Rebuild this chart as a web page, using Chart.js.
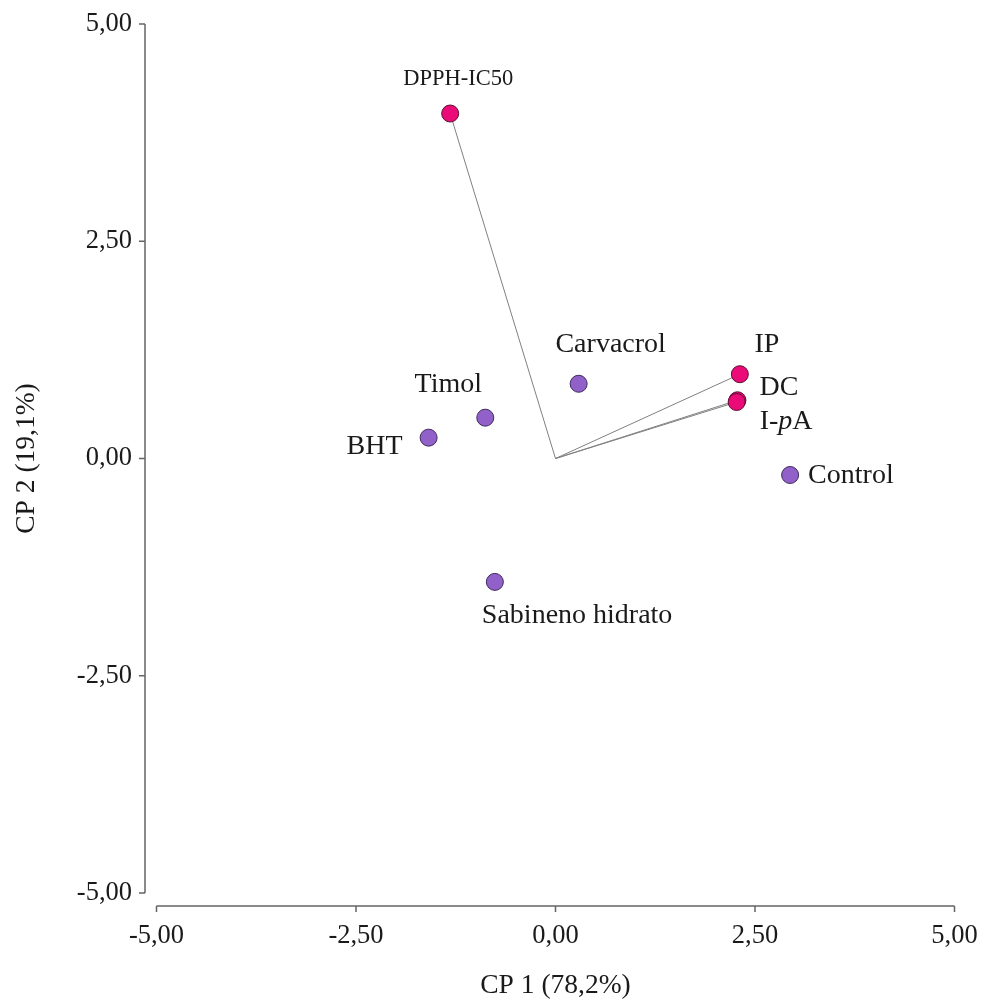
<!DOCTYPE html>
<html>
<head>
<meta charset="utf-8">
<script src="https://cdn.jsdelivr.net/npm/chart.js@4.4.1/dist/chart.umd.min.js"></script>
<style>
  html, body { margin: 0; padding: 0; background: #ffffff; }
  #wrap { width: 984px; height: 1000px; position: relative; }
</style>
</head>
<body>
<div id="wrap"><canvas id="biplot"></canvas></div>
<script>
// Principal component scores of the samples
const sampleNames = ['Carvacrol', 'Timol', 'BHT', 'Control', 'Sabineno hidrato'];
const sampleCP1 = [0.29, -0.88, -1.59, 2.94, -0.76];
const sampleCP2 = [0.86, 0.47, 0.24, -0.19, -1.42];

// Loadings of the measured variables (drawn as vectors from the origin)
const variableNames = ['DPPH-IC50', 'IP', 'DC', 'I-pA'];
const variableCP1 = [-1.32, 2.31, 2.28, 2.27];
const variableCP2 = [3.97, 0.97, 0.67, 0.65];

// Axis ticks and titles
const axisTicks = [-5, -2.5, 0, 2.5, 5];
const xTitle = 'CP 1 (78,2%)';
const yTitle = 'CP 2 (19,1%)';

// Where each name sits relative to its marker (pixels, to the text baseline)
const labelPlacement = {
  'Carvacrol':        { dx: 32,  dy: -32, align: 'center' },
  'Timol':            { dx: -37, dy: -26, align: 'center' },
  'BHT':              { dx: -26, dy: 16,  align: 'right' },
  'Control':          { dx: 18,  dy: 8,   align: 'left' },
  'Sabineno hidrato': { dx: -13, dy: 41,  align: 'left' },
  'DPPH-IC50':        { dx: 8,   dy: -29, align: 'center', size: 22.5 },
  'IP':               { dx: 27,  dy: -22, align: 'center' },
  'DC':               { dx: 22,  dy: -5,  align: 'left' },
  'I-pA':             { dx: 23,  dy: 27,  align: 'left' }
};

const SERIF = '"Liberation Serif", "Times New Roman", serif';
const PURPLE = '#9161c9';
const PINK = '#ea0a78';
const INK = '#1a1a1a';

const fmt = v => v.toFixed(2).replace('.', ',');

const samplePoints = sampleCP1.map((x, i) => ({ x, y: sampleCP2[i] }));
const variablePoints = variableCP1.map((x, i) => ({ x, y: variableCP2[i] }));

const vectorSets = variablePoints.map(p => ({
  type: 'scatter',
  data: [{ x: 0, y: 0 }, p],
  showLine: true,
  borderColor: '#808080',
  borderWidth: 1,
  pointRadius: 0,
  order: 3
}));

// Keep the plot area fixed: no extra room reserved for the outer tick labels
const noLabelPadding = s => {
  s.paddingLeft = 0; s.paddingRight = 0; s.paddingTop = 0; s.paddingBottom = 0;
};

// Offset axis lines with outward tick marks, plus the point names
const biplotDecor = {
  id: 'biplotDecor',
  afterDatasetsDraw(chart) {
    const { ctx, scales: { x, y } } = chart;
    const x0 = x.getPixelForValue(axisTicks[0]);
    const x1 = x.getPixelForValue(axisTicks[axisTicks.length - 1]);
    const y0 = y.getPixelForValue(axisTicks[0]);
    const y1 = y.getPixelForValue(axisTicks[axisTicks.length - 1]);
    const axisX = chart.chartArea.left - 11.5;
    const axisY = chart.chartArea.bottom + 13;
    ctx.save();
    ctx.strokeStyle = '#646464';
    ctx.lineWidth = 1.5;
    ctx.beginPath();
    ctx.moveTo(axisX, y1); ctx.lineTo(axisX, y0);
    axisTicks.forEach(t => {
      const py = y.getPixelForValue(t);
      ctx.moveTo(axisX - 6, py); ctx.lineTo(axisX, py);
    });
    ctx.moveTo(x0, axisY); ctx.lineTo(x1, axisY);
    axisTicks.forEach(t => {
      const px = x.getPixelForValue(t);
      ctx.moveTo(px, axisY); ctx.lineTo(px, axisY + 6);
    });
    ctx.stroke();

    // names
    ctx.fillStyle = INK;
    ctx.textBaseline = 'alphabetic';
    const names = sampleNames.map((n, i) => [n, samplePoints[i]])
      .concat(variableNames.map((n, i) => [n, variablePoints[i]]));
    names.forEach(([name, p]) => {
      const place = labelPlacement[name];
      const size = place.size || 28;
      const px = x.getPixelForValue(p.x) + place.dx;
      const py = y.getPixelForValue(p.y) + place.dy;
      if (name === 'I-pA') {
        // italic "p" inside the name
        const parts = [['I-', 'normal'], ['p', 'italic'], ['A', 'normal']];
        let cx = px;
        ctx.textAlign = 'left';
        parts.forEach(([s, st]) => {
          ctx.font = `${st} ${size}px ${SERIF}`;
          ctx.fillText(s, cx, py);
          cx += ctx.measureText(s).width;
        });
      } else {
        ctx.font = `${size}px ${SERIF}`;
        ctx.textAlign = place.align;
        ctx.fillText(name, px, py);
      }
    });
    ctx.restore();
  }
};

new Chart(document.getElementById('biplot'), {
  type: 'scatter',
  data: {
    datasets: [
      {
        data: variablePoints,
        backgroundColor: PINK,
        borderColor: '#5a1030',
        borderWidth: 1,
        pointRadius: 8.5,
        order: 1
      },
      {
        data: samplePoints,
        backgroundColor: PURPLE,
        borderColor: '#3d2a5c',
        borderWidth: 1,
        pointRadius: 8.5,
        order: 2
      },
      ...vectorSets
    ]
  },
  options: {
    responsive: true,
    maintainAspectRatio: false,
    animation: false,
    events: [],
    layout: { autoPadding: false, padding: { top: 24, right: 29.5, left: 0, bottom: 0 } },
    plugins: { legend: { display: false }, tooltip: { enabled: false } },
    scales: {
      x: {
        type: 'linear',
        min: -5, max: 5,
        afterBuildTicks: s => { s.ticks = axisTicks.map(v => ({ value: v })); },
        afterFit: s => { s.height = 107; noLabelPadding(s); },
        grid: { display: false, drawTicks: false },
        border: { display: false },
        ticks: {
          padding: 27,
          color: INK,
          font: { family: SERIF, size: 26.5 },
          callback: v => fmt(v),
          maxRotation: 0
        },
        title: {
          display: true,
          text: xTitle,
          color: INK,
          font: { family: SERIF, size: 27.5 },
          padding: { top: 0, bottom: -2 }
        }
      },
      y: {
        type: 'linear',
        min: -5, max: 5,
        afterBuildTicks: s => { s.ticks = axisTicks.map(v => ({ value: v })); },
        afterFit: s => { s.width = 156.5; noLabelPadding(s); },
        grid: { display: false, drawTicks: false },
        border: { display: false },
        ticks: {
          padding: 24.5,
          color: INK,
          font: { family: SERIF, size: 26.5 },
          callback: v => fmt(v)
        },
        title: {
          display: true,
          text: yTitle,
          color: INK,
          font: { family: SERIF, size: 27.5 },
          padding: { top: 10.5, bottom: 0 }
        }
      }
    }
  },
  plugins: [biplotDecor]
});
</script>
</body>
</html>
